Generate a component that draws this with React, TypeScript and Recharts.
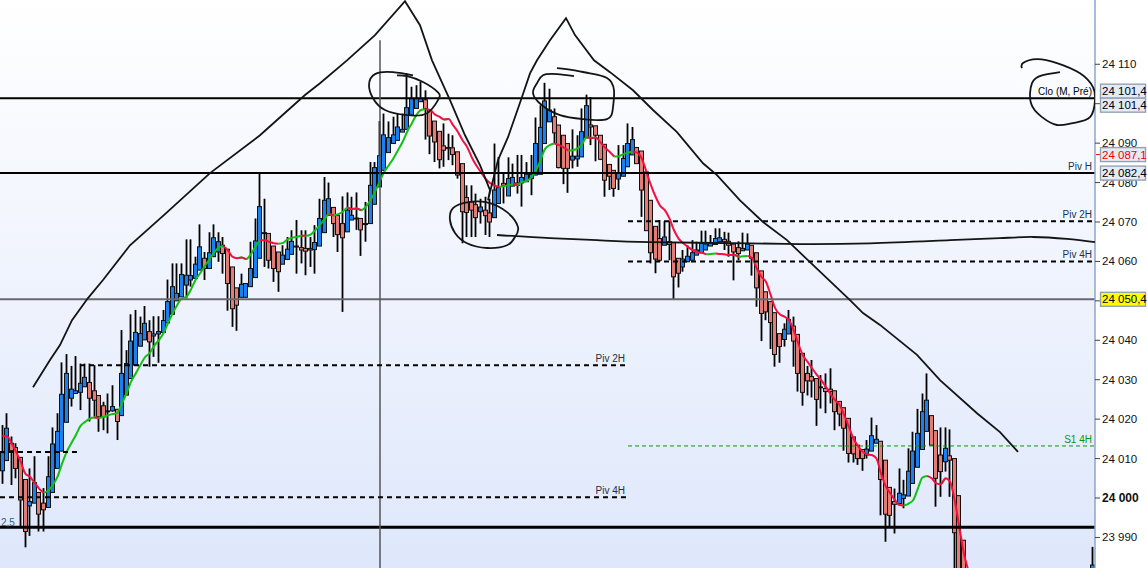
import React from 'react';
import { ComposedChart, Bar, Line, Scatter, XAxis, YAxis, ReferenceLine } from 'recharts';

// Prices are stored as points above BASE
const BASE = 24000;
const BAR_COUNT = 238;
const Y_MIN = BASE - 17.75;
const Y_MAX = BASE + 126.3;

const highs = [
  18.5,21.5,15.6,13.9,10.3,4.7,7.5,10.6,1.4,2.5,
  10.6,17.9,21.5,34.4,36.5,33.5,36,34.1,34.1,34.1,
  33.7,26,24.4,26.5,28.6,22.5,42.6,37.5,46.6,47.7,
  46,48.7,45.1,46.1,46.1,47.7,55.4,59.5,59.5,59.5,
  65.6,65.6,61.2,69.4,62.4,67.4,69.4,67.4,66.2,63.1,
  58.6,53.3,56.9,54.4,65,70.9,82.3,75.9,67.1,63.9,
  62.4,64.1,66.2,67.9,70.5,67.9,67.9,66.2,69.2,75.9,
  81.4,80,73.7,71.7,76.5,77.5,76.4,77.5,70.9,75.1,
  85.2,85.2,95.6,97.5,95.5,96.7,97.5,97.5,107.7,104.3,
  104.7,105.5,103.4,98.4,95.6,93,95,92.4,92,87.8,
  84.8,79.3,79.3,77.2,75.9,76.4,75.9,89.9,86.5,82.3,
  86.4,84.8,87,87,85.2,87,96.5,99.6,105.3,103.8,
  98.8,94.6,92,89.9,93.5,92,98.8,102.3,101.7,94.4,
  92,89.7,84.6,83.1,89.5,89.5,95,94.1,88.9,88,
  82.7,75.5,68.9,70.5,70.2,70.2,64.8,60.8,62.9,64.1,
  65.4,65,67.8,67.8,66.7,68.4,68.4,67.5,67.3,64.4,
  65.1,67.3,67.1,64.1,62.2,57.6,52.3,49.8,47,41.7,
  44.3,47.7,46,41.5,36.7,33.5,35,30.3,31.2,31.6,
  32.9,27.2,24.5,22.9,20.2,15.5,13.4,12.3,14.7,20.4,
  18.5,14.4,9.6,2.7,2.4,7.5,4.6,12.6,16.8,22.6,
  26.5,31.6,20.9,17.1,17.9,17.9,17.4,10,0.6,-10.7,
];

const lows = [
  3.6,9.5,3.3,5,-7.3,-12.5,-9.6,-1.3,-8.5,-8.5,
  -2.4,1.4,7.5,11.9,19.2,23.2,26.5,22.3,28.2,19.4,
  20.6,16.8,17.2,16.4,21.9,14.7,20.9,26.1,30.3,33.7,
  38.5,40.1,33.3,35.8,34.3,42,44.4,46.6,50,51,
  50.6,53.6,55.7,57.8,55.3,58.2,61.2,59.9,56.9,47.5,
  43.4,42.4,50.9,50.9,53.6,55.9,60.8,58.6,58.2,54.8,
  52.3,59.3,60.5,61.8,56.9,59.5,56.5,58.6,56.9,63.9,
  67.3,71.7,66.2,62.4,47.2,67.5,70.5,68,61.4,65,
  69.6,74.5,78.9,83.1,87.6,89.9,90.7,92.8,93.5,97.1,
  98.8,100.5,90.9,87.2,85.2,83.6,84,85.7,84.4,81,
  64.6,66.2,66.2,66.2,69.6,66.7,66.2,71.1,74.7,74.7,
  76.6,79.1,77.2,73.9,80.2,76.8,81.9,82.1,89.9,95.4,
  89.9,83.6,79.6,77.4,83.6,84,86.5,91.4,89.5,85.4,
  85.7,76.4,78.1,76.4,78.1,81.6,84,87,84.8,71.3,
  67.8,59.5,57,59.9,64.1,60.3,50.4,53.4,57.4,59.9,
  60.3,61.6,62.2,62.9,63.9,64.3,65,62.9,61.2,55.2,
  60.3,62.7,62.9,56.4,48.5,39.8,45.1,37.8,33.3,34.3,
  38.4,41.6,33.3,27,23.4,26,25.5,18.3,22.7,21.5,
  24,17.2,18.2,12,9,9,8.4,6.9,10,11.9,
  13.9,-4.4,-11.1,-7.3,-9,-1.4,-2.6,0.5,3.7,7.8,
  12.3,16.9,13.4,-2.2,0.3,6.7,0.3,-22,-27,-32,
];

const opens = [
  6.9,9.5,13.9,12.8,10.3,4.7,-2,-1.3,1.4,-1.3,
  -2.4,1.4,7.5,11.9,19.2,25.3,26.5,26.8,28.2,29.3,
  27.2,26,23.4,21.9,22.1,22.5,20.9,26.1,30.3,33.7,
  38.5,40.1,42.2,41.1,41.6,42,44.4,46.6,50,51,
  54,55.3,55.7,57.8,60.8,58.2,61.2,62.4,64.1,63.1,
  58.6,53.3,50.9,50.9,53.6,55.9,60.8,67.1,67.1,63.9,
  62.4,59.3,60.5,61.8,63.7,63.5,63.3,62.9,63,63.9,
  67.3,71.7,73.7,71.7,69.6,67.5,70.5,71,70.9,69.5,
  69.6,74.5,78.9,83.1,87.6,89.9,90.7,92.8,93.5,97.1,
  98.8,100.5,101,98.4,95.6,93,89.3,88.9,88.8,87.8,
  84.8,76.2,75.1,74.4,72.6,73,72.3,71.1,74.7,79.8,
  76.6,79.1,79.9,79.9,80.2,81,81.9,82.1,89.9,95.4,
  96.7,94.6,92,89.9,85.7,86,86.5,91.4,94.6,94.4,
  92,89.7,84.6,83.1,80.9,81.6,84,87,88.9,88,
  82.7,75.5,68.9,65.8,64.1,65,64.8,60.8,58.6,59.9,
  60.3,61.6,62.2,62.9,63.9,64.3,65,65.6,65.1,64.4,
  63.5,62.7,62.9,64.1,62.2,57.6,52.3,49.8,47,41.7,
  40.2,41.6,43.6,41.5,36.7,31.6,30.8,30.3,28,27.8,
  27.6,27.2,24.5,22.9,20.2,15.5,13.4,12.3,10.9,11.9,
  13.9,14.4,9.6,2.7,-0.9,-1.4,-0.1,0.5,3.7,7.8,
  12.3,16.9,20.9,17.1,10.9,9.2,10.7,10,0.6,-10.7,
];

const closes = [
  11.5,17.7,12,7.5,-0.5,-8.5,-0.9,3.9,-4.1,-3,
  5.4,13.7,16.9,26.3,31.6,27.6,27.2,29.1,30.6,25.3,
  24.8,20.6,20.6,22.1,23.2,19.4,31.6,34.1,39.8,42,
  41.7,44.3,39.6,41.6,42.2,45,49.8,53.6,51.9,56.7,
  56.5,56.4,59.3,63.7,58.2,62.2,66,65,62,54.4,
  48,48.9,54.2,54.4,58.2,65.2,73.9,67.3,60.3,58.2,
  57.4,61.6,63.1,65.1,63.9,62.9,62.6,63.3,64.8,70.9,
  75.5,75.9,69.6,66.8,66,73,71.7,70.8,68,69.6,
  79.3,83.8,86.8,92.1,91.4,92.1,94.1,93.5,99,101.3,
  101.3,101.3,98.8,91.8,90.3,85.8,88.2,88.6,87.1,81.9,
  72.6,72.4,73,71.1,73.8,71.6,70,78.1,78.7,79.3,
  81,81.3,79.3,81.3,82.1,82.1,89.9,94,100.7,98.4,
  92.6,83.8,83.6,83.6,86.7,86.7,92.9,99.5,94.1,92,
  85.9,80.6,81.6,78.5,82.3,86.1,89.9,90.9,84.8,78.1,
  67.8,62.2,60.6,60.3,66.2,64.3,56.1,57,60.6,61.3,
  62.2,62.9,64.6,64.4,64.7,65.8,66,65,64.1,62.4,
  62,63.3,64.4,60.8,53.3,46.8,47.2,44.5,36.4,38.4,
  42.8,45.3,39.8,31.6,26.8,29.7,29.7,25,28.2,27,
  27,21.9,21.3,17.7,11.3,11.2,10,10,12.4,15.8,
  14.9,4.7,-4.1,-4.4,-1.6,1.2,0.8,6.8,11.9,16.4,
  21.9,24.8,13.4,5,6.7,12.6,9.6,-8.8,-24,-30,
];

// the one candle that comes back into view at the right edge
const lastCandle = { high: -12.4, low: -30, open: -28, close: -17 };

const movingAvg = [
  15.8,15.7,13.9,11.7,9.2,6.2,5.4,3.9,2.4,1.3,
  1.9,3.3,5.4,8.8,11.7,13.9,16,18.3,19.3,20.1,
  20.4,20.3,20.6,21,21.3,21.6,24,26.5,29.5,31.6,
  33.7,35.7,36.7,38.6,40,41.7,44.3,46.8,48.9,50.6,
  51,52.9,55.3,57,58.8,60.5,62.2,63.5,63.9,62.9,
  61.2,60.8,61,60.6,61.8,63.7,65.4,65.4,65,64.6,
  64.5,64.7,65.6,66,66.2,66.5,66.5,66.8,67.9,69.2,
  70.6,72,71.7,72,72.6,73.6,73.3,73.4,73,73.8,
  75.5,77.6,80.2,82.7,84.4,86.1,88.2,90.3,92.9,95,
  97.1,98.4,98.6,98.4,97.3,96.7,96,96.1,94.5,92.9,
  90.8,89.1,86.5,84.4,82.7,81,79.9,79.3,78.9,79.1,
  79.3,79.6,79.4,80.2,80.4,81.4,83.1,85.7,88.6,89.5,
  89.9,89.5,88.9,88.1,88.2,88.6,89.7,91.4,91.3,91.4,
  90.2,88.9,87.8,86.6,86.7,87.2,87.6,87.9,87.6,86.1,
  82.7,79.3,76.4,74.1,73,70.9,67.9,65.8,64.6,63.7,
  62.9,62.4,62.2,61.8,61.9,62,61.9,61.8,61.6,61.7,
  61.2,61.3,61.4,60.8,58.2,56.1,54.8,51.5,48.1,46.6,
  46,45.1,42.6,39.2,36.2,34.6,32.9,31.3,29.9,28.2,
  26.4,24.8,23.6,21,18.1,15.1,13.2,11.7,11.1,10.9,
  10,6.2,3,1.2,-0.5,-1.8,-1.9,-1.4,-0.5,2.4,
  5.2,5.6,5,3.7,3.5,5,4.1,-0.5,-7.3,-14,
  -18.5,
];

const axisTicks = [24110, 24100, 24090, 24080, 24070, 24060, 24050, 24040, 24030, 24020, 24010, 24000, 23990];
// these two tick labels sit fully behind a price tag in the reference
const hiddenTickLabels = [24100, 24050];
const priceTags = [24101.4, 24101.4, 24087.1, 24082.4, 24050.4];

const closeLevel = 24101.4;
const pivotH = 24082.4;
const lastPrice = 24050.4;
const heavyLevel = 23992.6;
const piv2hOld = 24033.7;
const piv4hOld = 24000.2;
const oldStub = 24011.7;
const piv2hNew = 24070.2;
const piv4hNew = 24060;
const s1Level = 24013.2;
const cursorTop = BASE + 116.1;

// Hand drawn pen strokes over the chart: [pen x, points above BASE]
const penPeaks = [
  [33,28.1],[50,35],[60,38.8],[72,45.1],[88,50.7],[103,55.3],[130,64.1],[165,72],[210,82.4],[260,92],
  [305,102.2],[320,105.2],[347,111],[375,117.4],[405,126],[420,119.9],[432,111],[450,100.9],[465,92],
  [480,84.4],[490,78.1],[488,75.5],[498,85.7],[508,91.5],[522,101.7],[530,107.7],[537,111],[550,116.1],
  [566,121.7],[575,117.4],[594,111],[610,108],[633,103.4],[653,98.4],[677,92.8],[703,84.9],[717,81.9],
  [740,75.5],[763,70],[787,65.4],[810,59.8],[850,50.2],[863,46.9],[880,43.9],[917,36.3],[940,29.9],
  [977,21.5],[1000,16.7],[1018,11.7],
];
const penCircleLeft = [
  [413,107.2],[393,108],[375,107.5],[369,104.7],[373,101.4],[385,98.4],[407,97.1],[427,97.6],[438,100.9],
  [438,102.9],[423,105.5],[407,107],[397,107.2],
];
const penCircleLow = [
  [515,66.2],[518,68.7],[507,72.5],[487,75],[467,75],[453,73.5],[450,70.5],[455,67.2],[467,64.6],[487,63.4],
  [507,64.1],[515,66.2],
];
const penFlat = [
  [497,66.7],[550,65.9],[597,65.4],[650,64.9],[750,64.6],[800,64.4],[870,64.6],[950,65.4],[1000,65.9],
  [1033,66.2],[1067,65.7],[1095,64.9],
];
const penCircleMid = [
  [574,107],[557,107.5],[543,107.2],[537,105.2],[533,102.7],[542,99.6],[560,97.1],[583,96.1],[607,96.1],
  [613,99.1],[614,103.4],[607,106.5],[590,107.7],[573,108.5],[557,109],
];
const penCircleClo = [
  [1022,109],[1023,110.3],[1037,111.3],[1057,110.3],[1080,107.7],[1093,104.2],[1095,100.9],[1090,96.6],
  [1073,95.1],[1057,94.6],[1042,96.6],[1031,100.1],[1032,105.2],[1042,107.2],[1060,108],
];
const penCurves = [penCircleLeft, penCircleLow, penFlat, penCircleMid, penCircleClo];

const rising = (i: number) => movingAvg[i] > movingAvg[i - 1];

const rows = Array.from({ length: BAR_COUNT }, (_, i) => {
  const c = i < highs.length
    ? { high: highs[i], low: lows[i], open: opens[i], close: closes[i] }
    : i === BAR_COUNT - 1 ? lastCandle : null;
  const ma = i < movingAvg.length ? movingAvg[i] : null;
  const upHere = ma !== null && (rising(i) || (i + 1 < movingAvg.length && rising(i + 1)));
  const downHere = ma !== null && ((i > 0 && !rising(i)) || (i + 1 < movingAvg.length && !rising(i + 1)));
  return {
    k: i,
    range: c ? [BASE + c.low, BASE + c.high] : null,
    open: c ? BASE + c.open : null,
    close: c ? BASE + c.close : null,
    high: c ? BASE + c.high : null,
    maUp: upHere ? BASE + (ma as number) : null,
    maDown: downHere ? BASE + (ma as number) : null,
  };
});

const PX_PER_POINT = 568 / (Y_MAX - Y_MIN);

const Candle = (props: any) => {
  const { x, y, width, height, payload } = props;
  if (!payload || payload.high === null) return null;
  const cx = Math.floor(x + width / 2) + 0.5;
  const at = (p: number) => y + (payload.high - p) * PX_PER_POINT;
  const top = at(Math.max(payload.open, payload.close));
  const bottom = at(Math.min(payload.open, payload.close));
  const up = payload.close >= payload.open;
  return (
    <g>
      <line x1={cx} x2={cx} y1={y} y2={y + height} stroke="#000" strokeWidth={1.8} />
      <rect
        x={cx - 2}
        y={top}
        width={4}
        height={Math.max(bottom - top, 1)}
        fill={up ? '#1b80ee' : '#e27c74'}
        stroke="#111"
        strokeWidth={1}
      />
    </g>
  );
};

const fmtPrice = (v: number, digits = 0) => {
  const s = v.toFixed(digits).replace('.', ',');
  return s.slice(0, 2) + ' ' + s.slice(2);
};

const AxisTick = (props: any) => {
  const { x, y, payload } = props;
  if (hiddenTickLabels.includes(payload.value)) return null;
  const bold = payload.value === BASE;
  return (
    <text
      x={x}
      y={y + 4}
      fontFamily="Liberation Sans, Arial, sans-serif"
      fontSize={bold ? 12 : 11.5}
      fontWeight={bold ? 700 : 400}
      fill="#111"
    >
      {fmtPrice(payload.value)}
    </text>
  );
};

const tagShift = (i: number) => (i === 0 ? -7 : i === 1 ? 7 : 0);

const PriceTag = ({ viewBox, value, index }: any) => {
  const cy = viewBox.y + tagShift(index);
  const isYellow = value === lastPrice;
  const isRed = value === 24087.1;
  return (
    <g>
      {isRed && <line x1={1096} x2={1100} y1={cy} y2={cy} stroke="#f00" />}
      <rect
        x={1100.5}
        y={cy - 7}
        width={45}
        height={14}
        fill={isYellow ? '#ffff00' : '#e4eaf6'}
        stroke="#93a3b5"
        strokeWidth={1.4}
      />
      <text
        x={1102}
        y={cy + 4}
        fontFamily="Liberation Sans, Arial, sans-serif"
        fontSize={11.5}
        fill={isRed ? '#f00000' : '#000'}
      >
        {fmtPrice(value, 1)}
      </text>
    </g>
  );
};

const labelFont = { fontFamily: 'Liberation Sans, Arial, sans-serif', fontSize: 10 };
const penLine = { stroke: '#141414', strokeWidth: 1.8 };

export default function App() {
  return (
    <div
      style={{
        position: 'absolute',
        left: 0,
        top: 0,
        width: 1147,
        height: 568,
        overflow: 'hidden',
        background: 'linear-gradient(#ffffff, #dee7fb) 0 0 / 1095px 100% no-repeat, #ffffff',
      }}
    >
      <ComposedChart width={1147} height={568} data={rows} margin={{ top: 0, right: 0, bottom: 0, left: 0 }} barGap={0}>
        <XAxis xAxisId="main" dataKey="k" hide />
        <XAxis xAxisId="pen" type="number" dataKey="x" domain={[0, 1095]} hide allowDataOverflow />
        <YAxis
          orientation="right"
          width={52}
          domain={[Y_MIN, Y_MAX]}
          allowDataOverflow
          ticks={axisTicks}
          interval={0}
          tick={<AxisTick />}
          tickSize={5}
          tickMargin={2}
          stroke="#8ea6c8"
          strokeWidth={1.5}
          tickLine={{ stroke: '#444', strokeWidth: 1 }}
        />

        <Bar xAxisId="main" dataKey="range" barSize={4} shape={<Candle />} isAnimationActive={false} />
        <Line xAxisId="main" dataKey="maUp" type="monotone" stroke="#12bf12" strokeWidth={2} dot={false} activeDot={false} isAnimationActive={false} />
        <Line xAxisId="main" dataKey="maDown" type="monotone" stroke="#f5103f" strokeWidth={2} dot={false} activeDot={false} isAnimationActive={false} />

        <ReferenceLine xAxisId="pen" y={closeLevel} stroke="#000" strokeWidth={2}
          label={{ value: 'Clo (M, Pré)', position: 'insideBottomRight', offset: 3, fill: '#000', ...labelFont }} />
        <ReferenceLine xAxisId="pen" y={pivotH} stroke="#000" strokeWidth={2}
          label={{ value: 'Piv H', position: 'insideBottomRight', offset: 3, fill: '#22304a', ...labelFont }} />
        <ReferenceLine xAxisId="pen" y={lastPrice} stroke="#68686f" strokeWidth={2} />
        <ReferenceLine xAxisId="pen" y={heavyLevel} stroke="#000" strokeWidth={3}
          label={{ value: '2,5', position: 'insideBottomLeft', offset: 1, fill: '#3c5a78', ...labelFont }} />

        <ReferenceLine xAxisId="pen" segment={[{ x: 380, y: cursorTop }, { x: 380, y: Y_MIN }]} stroke="#55555a" strokeWidth={1.5} />

        <ReferenceLine xAxisId="pen" segment={[{ x: 80, y: piv2hOld }, { x: 628, y: piv2hOld }]} stroke="#000" strokeWidth={2} strokeDasharray="5 4"
          label={{ value: 'Piv 2H', position: 'insideBottomRight', offset: 3, fill: '#22304a', ...labelFont }} />
        <ReferenceLine xAxisId="pen" segment={[{ x: 0, y: piv4hOld }, { x: 628, y: piv4hOld }]} stroke="#000" strokeWidth={2} strokeDasharray="5 4"
          label={{ value: 'Piv 4H', position: 'insideBottomRight', offset: 3, fill: '#22304a', ...labelFont }} />
        <ReferenceLine xAxisId="pen" segment={[{ x: 0, y: oldStub }, { x: 77, y: oldStub }]} stroke="#000" strokeWidth={2} strokeDasharray="5 4" />
        <ReferenceLine xAxisId="pen" segment={[{ x: 628, y: piv2hNew }, { x: 1095, y: piv2hNew }]} stroke="#000" strokeWidth={2} strokeDasharray="5 4"
          label={{ value: 'Piv 2H', position: 'insideBottomRight', offset: 3, fill: '#22304a', ...labelFont }} />
        <ReferenceLine xAxisId="pen" segment={[{ x: 628, y: piv4hNew }, { x: 1095, y: piv4hNew }]} stroke="#000" strokeWidth={2} strokeDasharray="5 4"
          label={{ value: 'Piv 4H', position: 'insideBottomRight', offset: 3, fill: '#22304a', ...labelFont }} />
        <ReferenceLine xAxisId="pen" segment={[{ x: 628, y: s1Level }, { x: 1095, y: s1Level }]} stroke="#0a960a" strokeWidth={1} strokeDasharray="4 3"
          label={{ value: 'S1 4H', position: 'insideBottomRight', offset: 3, fill: '#0a960a', ...labelFont }} />

        <Scatter
          xAxisId="pen"
          dataKey="y"
          data={penPeaks.map(([x, y]) => ({ x, y: BASE + y }))}
          line={penLine}
          shape={() => null}
          isAnimationActive={false}
        />
        {penCurves.map((stroke, i) => (
          <Scatter
            key={i}
            xAxisId="pen"
            dataKey="y"
            data={stroke.map(([x, y]) => ({ x, y: BASE + y }))}
            line={penLine}
            lineJointType="natural"
            shape={() => null}
            isAnimationActive={false}
          />
        ))}

        {priceTags.map((v, i) => (
          <ReferenceLine key={i} xAxisId="pen" y={v} stroke="none" zIndex={2000} label={<PriceTag value={v} index={i} />} />
        ))}
      </ComposedChart>
    </div>
  );
}
